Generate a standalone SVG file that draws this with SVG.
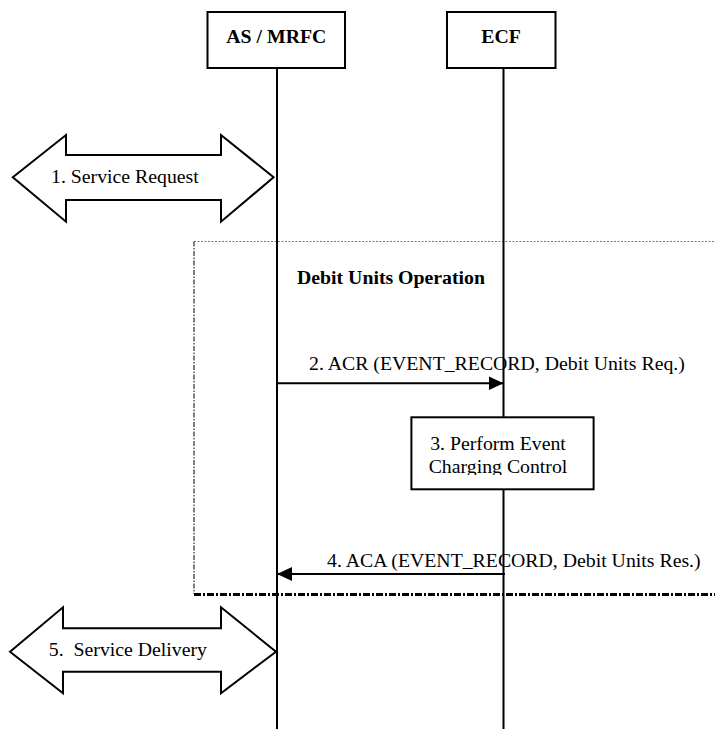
<svg xmlns="http://www.w3.org/2000/svg" width="715" height="729" viewBox="0 0 715 729">
<style>
text{font-family:"Liberation Serif","Times New Roman",serif;font-size:19.8px;fill:#000}
.b{font-weight:bold}
.box{fill:#fff;stroke:#000;stroke-width:2}
.life{stroke:#000;stroke-width:2;fill:none}
.msg{stroke:#000;stroke-width:2;fill:none}
.big{fill:#fff;stroke:#000;stroke-width:2;stroke-linejoin:miter}
</style>
<defs>
<marker id="ah" markerWidth="16" markerHeight="14" refX="15" refY="7" orient="auto" markerUnits="userSpaceOnUse">
<path d="M0,0 L15,7 L0,14 Z" fill="#000"/>
</marker>
<clipPath id="clip3"><rect x="411" y="417" width="183" height="58"/></clipPath>
</defs>
<rect width="715" height="729" fill="#fff"/>
<g id="frame">
<path d="M194,241.5 H715" stroke="#777" stroke-width="1" stroke-dasharray="2,1.5" fill="none"/>
<path d="M194,241.5 V594" stroke="#000" stroke-width="1" stroke-dasharray="5,1.5,1.5,1.5" fill="none"/>
<path d="M194,594.5 H715" stroke="#000" stroke-width="3" stroke-dasharray="7,2,2,2" fill="none"/>
<text x="297" y="283.5" class="b">Debit Units Operation</text>
</g>
<g id="lifelines">
<line class="life" x1="277" y1="68" x2="277" y2="729"/>
<line class="life" x1="503.5" y1="68" x2="503.5" y2="729"/>
</g>
<g id="as-mrfc">
<rect class="box" x="207.5" y="12" width="137.5" height="56"/>
<text x="276.3" y="43.3" class="b" text-anchor="middle">AS / MRFC</text>
</g>
<g id="ecf">
<rect class="box" x="447" y="12" width="108.5" height="56"/>
<text x="501" y="43.3" class="b" text-anchor="middle">ECF</text>
</g>
<g id="service-request">
<path class="big" d="M12.8,177.3 L66,135 V155 H221 V135 L273.6,177.3 L221,221.7 V200 H66 V221.7 Z"/>
<text x="51" y="183">1. Service Request</text>
</g>
<g id="perform-event">
<rect class="box" x="411.4" y="417.3" width="182.2" height="72"/>
<g clip-path="url(#clip3)">
<text x="498" y="450" text-anchor="middle">3. Perform Event</text>
<text x="498" y="473.3" text-anchor="middle">Charging Control</text>
</g>
</g>
<g id="service-delivery">
<path class="big" d="M10,651.7 L63,607.3 V628.3 H221 V607.3 L276,651.7 L221,693.3 V671.7 H63 V693.3 Z"/>
<text x="48.8" y="656" xml:space="preserve">5.  Service Delivery</text>
</g>
<g id="connectors">
<line class="msg" x1="277" y1="383.3" x2="503.5" y2="383.3" marker-end="url(#ah)"/>
<text x="309" y="370">2. ACR (EVENT_RECORD, Debit Units Req.)</text>
<line class="msg" x1="505" y1="574" x2="277" y2="574" marker-end="url(#ah)"/>
<text x="327" y="566.7">4. ACA (EVENT_RECORD, Debit Units Res.)</text>
</g>
</svg>
